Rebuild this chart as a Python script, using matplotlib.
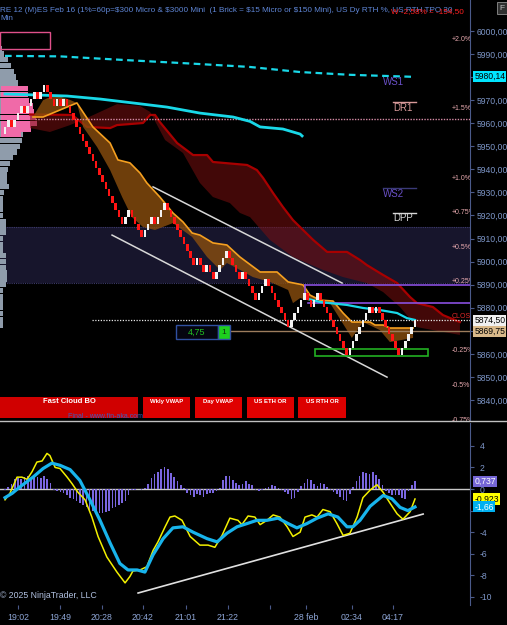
import matplotlib
matplotlib.use("Agg")
import matplotlib.pyplot as plt
from matplotlib import font_manager
from matplotlib.patches import Rectangle
import numpy as np

# ---------------- data ----------------
brick_size = 3.0
first_open = 5955.5
brick_close = [
    5958.5, 5961.5, 5958.5, 5961.5, 5964.5, 5967.5, 5964.5, 5967.5, 5970.5, 5973.5,
    5970.5, 5973.5, 5976.5, 5973.5, 5970.5, 5967.5, 5970.5, 5967.5, 5970.5, 5967.5,
    5964.5, 5961.5, 5958.5, 5955.5, 5952.5, 5949.5, 5946.5, 5943.5, 5940.5, 5937.5,
    5934.5, 5931.5, 5928.5, 5925.5, 5922.5, 5919.5, 5916.5, 5919.5, 5922.5, 5919.5,
    5916.5, 5913.5, 5910.5, 5913.5, 5916.5, 5919.5, 5916.5, 5919.5, 5922.5, 5925.5,
    5922.5, 5919.5, 5916.5, 5913.5, 5910.5, 5907.5, 5904.5, 5901.5, 5898.5, 5901.5,
    5898.5, 5895.5, 5898.5, 5895.5, 5892.5, 5895.5, 5898.5, 5901.5, 5904.5, 5901.5,
    5898.5, 5895.5, 5892.5, 5895.5, 5892.5, 5889.5, 5886.5, 5883.5, 5886.5, 5889.5,
    5892.5, 5889.5, 5886.5, 5883.5, 5880.5, 5877.5, 5874.5, 5871.5, 5874.5, 5877.5,
    5880.5, 5883.5, 5886.5, 5883.5, 5880.5, 5883.5, 5886.5, 5883.5, 5880.5, 5877.5,
    5874.5, 5871.5, 5868.5, 5865.5, 5862.5, 5859.5, 5862.5, 5865.5, 5868.5, 5871.5,
    5874.5, 5877.5, 5880.5, 5877.5, 5880.5, 5877.5, 5874.5, 5871.5, 5868.5, 5865.5,
    5862.5, 5859.5, 5862.5, 5865.5, 5868.5, 5871.5, 5874.5,
]

# weekly vwap (dashed cyan)
wk_x = [0, 16.9, 36.9, 56.9, 75.3, 90.7, 106, 126]
wk_y = [5989.2, 5989.0, 5987.4, 5985.9, 5984.4, 5982.2, 5981.0, 5980.1]
# day vwap, two pieces
dv1_x = [0, 19.1, 29.2, 39.3, 49.8, 59.9, 70.1, 75.3, 78.4, 85.4, 90.7, 91.3]
dv1_y = [5972.7, 5971.8, 5970.5, 5968.8, 5967.0, 5964.4, 5962.7, 5960.8, 5958.4, 5957.5, 5955.3, 5954.5]
dv2_x = [93.1, 96.8, 99.9, 105.1, 110, 115.2, 120.5, 123.5, 126]
dv2_y = [5883.8, 5882.5, 5882.0, 5881.2, 5879.9, 5879.0, 5877.7, 5875.5, 5874.7]

# fast cloud
fast_x = [8.6, 11.7, 22.1, 27.0, 32.3, 34.7, 38.4, 41.5, 43.6, 47.6, 51.6, 54.7, 57.5, 59.9,
          63.9, 68.2, 72.2, 78.4, 83.6, 87.0, 91.6, 93.7, 96.8, 100.8, 103.9, 106.6, 112.2,
          113.7, 116.2, 118.3, 125.4]
fast_y = [5962.7, 5962.7, 5968.8, 5958.4, 5951.4, 5944.1, 5942.8, 5938.4, 5934.1, 5928.0,
          5921.1, 5917.2, 5912.4, 5911.5, 5908.1, 5907.2, 5902.0, 5895.5, 5895.5, 5891.2,
          5889.9, 5885.5, 5883.3, 5882.9, 5877.7, 5873.8, 5873.8, 5872.5, 5872.5, 5871.2, 5871.2]
slow_x = [8.6, 11.7, 15.4, 20.0, 22.1, 24.0, 28.3, 32.3, 36.0, 39.0, 42.4, 46.1, 51.6, 57.5,
          62.1, 66.1, 68.2, 72.2, 76.2, 81.4, 87.0, 88.5, 90.7, 94.7, 99.9, 106.6, 110.0,
          115.2, 118.3, 125.4]
slow_y = [5962.7, 5970.0, 5972.3, 5970.1, 5968.8, 5958.4, 5949.7, 5939.7, 5928.0, 5919.3,
          5915.0, 5913.7, 5916.7, 5910.7, 5902.0, 5896.4, 5899.4, 5896.4, 5893.3, 5891.2,
          5887.7, 5882.0, 5884.2, 5882.5, 5882.0, 5866.9, 5873.8, 5870.3, 5865.1, 5866.9]

# slow (red) cloud
red_x = [7.7, 20.6, 25.2, 32.3, 34.4, 42.4, 44.6, 46.1, 47.6, 52.9, 57.8, 62.1, 63.9, 74.4,
         77.4, 79.3, 82.4, 85.4, 88.5, 91.6, 94.7, 99.0, 105.1, 109.1, 111.2, 116.2, 120.5,
         124.5, 126.6, 131.5, 134.6, 139.8]
red_y = [5963.8, 5963.6, 5958.4, 5957.9, 5959.2, 5960.1, 5963.6, 5963.6, 5960.5, 5951.4,
         5946.2, 5946.2, 5943.2, 5941.9, 5939.7, 5936.3, 5929.7, 5923.7, 5918.0, 5913.7,
         5909.4, 5904.2, 5904.2, 5900.7, 5898.5, 5894.2, 5890.7, 5884.6, 5882.0, 5880.3,
         5876.8, 5873.8]
redb_x = [7.7, 13.8, 20.0, 25.2, 29.2, 34.4, 41.5, 44.6, 49.2, 54.7, 59.9, 63.9, 69.1, 72.2,
          75.3, 81.4, 88.5, 97.7, 103.9, 111.2, 116.2, 121.4, 123.5, 126.6, 131.5, 139.8]
redb_y = [5957.9, 5956.2, 5959.2, 5962.3, 5964.9, 5968.3, 5967.5, 5964.9, 5952.7, 5947.1,
          5934.1, 5928.0, 5925.4, 5921.1, 5919.3, 5909.4, 5902.0, 5896.4, 5893.3, 5890.7,
          5886.8, 5880.3, 5876.8, 5871.6, 5870.3, 5868.2]

# trend lines
tl1_x, tl1_y = [45.5, 103.6], [5932.4, 5890.7]
tl2_x, tl2_y = [32.9, 117.4], [5911.5, 5849.9]

# volume profile rows (top row price, step 2.5)
prof_gray = [2, 4, 8, 11, 14, 16, 18, 21, 24, 24, 25, 25, 25, 25, 25, 23, 22, 20, 17, 13, 10, 8,
             7, 7, 9, 4, 3, 3, 3, 3, 6, 6, 6, 3, 3, 3, 6, 6, 6, 7, 7, 6, 3, 3, 3, 3, 3, 3, 3]
prof_pink = [0, 0, 0, 0, 0, 0, 0, 27, 27, 28, 32, 33, 35, 36, 30, 20] + [0] * 33

# reference levels
close_ref = 5877.75
pct_vals = [2.0, 1.5, 1.0, 0.75, 0.5, 0.25, 0.0, -0.25, -0.5, -0.75]
pct_text = ['+2.0%', '+1.5%', '+1.0%', '+0.75%', '+0.5%', '+0.25%', 'CLOSE', '-0.25%', '-0.5%', '-0.75%']
band_lo, band_hi = 5890.7, 5915.0
pink_dot = 5961.8
last_px, mark_px, wk_last = 5874.50, 5869.75, 5980.14
purple_lv = [5889.9, 5882.0]
pivots = [('WS1', 5977.9, None, '#6a50c8'), ('DR1', 5966.6, 5969.2, '#d89a9a'),
          ('WS2', 5929.3, 5931.9, '#6a50c8'), ('DPP', 5918.9, 5921.1, '#d8d8d8')]

# MACD panel
hist = [-0.1, 0.2, 0.5, 0.9, 1.0, 0.9, 1.1, 1.2, 0.8, 1.3, 1.1, 1.0, 1.2, 0.9, 0.6, -0.1, -0.2,
        -0.3, -0.4, -0.6, -0.8, -0.9, -1.1, -1.3, -1.5, -1.7, -1.9, -2.0, -2.1, -2.2, -2.2,
        -2.1, -2.0, -1.8, -1.7, -1.5, -1.3, -1.1, -0.6, -0.1, -0.05, 0.0, -0.1, 0.1, 0.45,
        1.0, 1.4, 1.6, 1.9, 2.0, 1.9, 1.5, 1.1, 0.7, 0.4, 0.1, -0.4, -0.6, -0.7, -0.5, -0.6,
        -0.7, -0.5, -0.4, -0.4, -0.2, 0.1, 0.8, 1.2, 1.2, 0.8, 0.6, 0.4, 0.5, 0.7, 0.5, 0.4,
        -0.1, -0.2, -0.1, 0.1, 0.2, 0.4, 0.3, 0.1, -0.1, -0.3, -0.5, -0.9, -0.8, -0.3, 0.3,
        0.6, 0.9, 0.8, 0.5, 0.3, 0.6, 0.5, 0.2, -0.1, -0.3, -0.5, -0.7, -1.0, -1.1, -0.5,
        0.2, 0.7, 1.2, 1.6, 1.5, 1.4, 1.6, 1.3, 0.9, 0.4, -0.2, -0.4, -0.6, -0.6, -0.6,
        -0.8, -0.9, -0.2, 0.4, 0.737]
macd_x = [0, 1.5, 3.7, 5.2, 6.8, 8.3, 9.8, 11.4, 12.9, 13.8, 15.4, 16.9, 19.1, 20.6, 22.4,
          24.6, 26.7, 28.6, 31.3, 34.4, 36.9, 38.4, 39.3, 41.5, 43.6, 45.5, 47, 49.2, 50.7,
          52.2, 54.4, 56.9, 59.9, 62.4, 64.5, 66.7, 69.1, 71.6, 72.8, 74.7, 76.8, 78.4, 80.5,
          82.4, 84.5, 86.7, 88.5, 90.7, 92.2, 94.3, 95.9, 97.7, 99.9, 102, 103.9, 106, 108.2,
          110, 112.2, 114.3, 116.2, 118.3, 120.5, 122.3, 124.5, 126]
macd_y = [-1.0, -0.4, 1.1, 1.1, 0.9, 1.6, 2.5, 2.6, 3.3, 3.1, 2.0, 1.9, 1.1, 0.5, -0.3, -1.0,
          -2.6, -4.4, -6.3, -7.7, -8.7, -8.1, -7.6, -7.5, -7.2, -5.7, -4.9, -3.5, -2.6, -2.5,
          -2.9, -4.4, -5.2, -5.2, -5.4, -4.3, -2.7, -2.9, -3.3, -2.5, -2.6, -3.3, -2.9, -2.4,
          -2.6, -3.5, -4.4, -4.0, -2.6, -2.4, -2.6, -1.9, -2.1, -3.2, -4.3, -4.1, -2.6, -0.8,
          -0.1, 0.4, -0.3, -1.3, -2.3, -2.8, -2.1, -0.923]
sig_x = [0, 2.2, 4.6, 8.6, 11.7, 14.4, 16.9, 20, 23, 26.1, 29.2, 32.3, 35.3, 37.8, 40.6, 43,
         45.5, 48.6, 51.6, 54.7, 57.8, 62.1, 65.2, 68.2, 71.3, 74.4, 77.4, 80.5, 83.9, 87,
         89.7, 92.8, 95.9, 99.3, 102.3, 105.1, 106.9, 109.1, 112.2, 116.2, 118.9, 121.4,
         123.8, 126]
sig_y = [-0.8, -0.4, 0.2, 1.1, 1.9, 2.4, 2.2, 1.8, 0.8, -1.0, -2.9, -5.0, -6.9, -7.5, -7.5,
         -7.7, -6.1, -4.6, -3.6, -3.5, -4.0, -4.6, -4.9, -4.1, -3.5, -3.2, -2.9, -2.9, -2.7,
         -3.2, -3.6, -3.2, -2.7, -2.3, -2.6, -3.5, -3.5, -2.9, -1.6, -0.6, -0.9, -1.7, -2.0, -1.66]
mtl_x, mtl_y = [40.9, 128.5], [-9.64, -2.32]

time_pos = [4.0, 16.9, 29.8, 42.4, 55.6, 68.5, 81.4, 92.5, 106.6, 119.2]
time_lab = ['19:02', '19:49', '20:28', '20:42', '21:01', '21:22', '', '28 feb', '02:34', '04:17']

# ---------------- style / layout ----------------
def has_font(name):
    try:
        font_manager.findfont(font_manager.FontProperties(family=name), fallback_to_default=False)
        return True
    except Exception:
        return False

narrow = 'Liberation Sans Narrow' if has_font('Liberation Sans Narrow') else 'Liberation Sans'
title_fs = 6.5 if narrow == 'Liberation Sans Narrow' else 5.9
plt.rcParams['font.family'] = ['Liberation Sans', 'DejaVu Sans']

W, H = 507, 625
PW = 470            # plot width px
TOP_H = 421         # price panel height px
BAR = 3.254         # px per bar
X0 = 5              # px of first bar
AXC = '#7d96c8'

fig = plt.figure(figsize=(W / 100, H / 100), dpi=100, facecolor='black')
ax = fig.add_axes([0, (H - TOP_H) / H, PW / W, TOP_H / H])
ax2 = fig.add_axes([0, (H - 605) / H, PW / W, 182 / H])
xlim = (-X0 / BAR, (PW - X0) / BAR)

for a in (ax, ax2):
    a.set_facecolor('black')
    a.set_xlim(*xlim)
    for s in ('top', 'left', 'bottom'):
        a.spines[s].set_visible(False)
    a.spines['right'].set_color('#4a5a8a')
    a.yaxis.tick_right()
    a.tick_params(axis='y', colors='#4a5a8a', labelcolor=AXC, labelsize=6.2, length=3, pad=2)

ax.set_ylim(5830.88, 6013.44)
ax.set_xticks([])
ticks = list(range(5840, 6001, 10))
ax.set_yticks(ticks)
# labels hidden behind the price badges are left blank
ax.set_yticklabels(['' if t in (5980, 5870) else f'{t},00' for t in ticks])

# background band and level lines
ax.axhspan(band_lo, band_hi, color='#17152c', zorder=0.5, lw=0)
for lv in (band_lo, band_hi):
    ax.axhline(lv, color='#3c3a6a', lw=0.8, ls=(0, (1, 1)), zorder=0.6)
ax.plot([9.2, xlim[1]], [pink_dot, pink_dot], color='#d58aa5', lw=1, ls=(0, (1, 1)), zorder=3)
ax.plot([26.7, xlim[1]], [last_px, last_px], color='#e8e8e8', lw=0.9, ls=(0, (1, 1.2)), zorder=3)
ax.plot([69.1, xlim[1]], [mark_px, mark_px], color='#9c7c5c', lw=1, zorder=3)
ax.plot([92.2, xlim[1]], [purple_lv[0]] * 2, color='#8a4fe0', lw=1.2, zorder=3)
ax.plot([93.1, xlim[1]], [purple_lv[1]] * 2, color='#8a4fe0', lw=1.2, zorder=3)
ax.plot([92.2, 92.2], [purple_lv[0], purple_lv[0] - 4], color='#8a4fe0', lw=1.2, zorder=3)

# volume profile
prof_top = 5992.5
pw_scale = (36 / BAR) / max(prof_pink)
levels = prof_top - 2.5 * np.arange(len(prof_gray))
ax.barh(levels, np.array(prof_gray) * pw_scale, left=xlim[0], height=2.3,
        color='#8f9cab', lw=0, zorder=1)
ax.barh(levels, np.array(prof_pink) * pw_scale, left=xlim[0] + 1 / BAR, height=2.3,
        color='#f06aa8', lw=0, zorder=1.1)
ax.add_patch(Rectangle((xlim[0], 5992.2), 15.3, 7.4, fill=False, ec='#e0508a', lw=1, zorder=3))

# clouds
ax.fill(red_x + redb_x[::-1], red_y + redb_y[::-1], color='#7a0f0f', alpha=0.55, lw=0, zorder=1.5)
ax.plot(red_x, red_y, color='#a80000', lw=1.6, zorder=2)
ax.fill(fast_x + slow_x[::-1], fast_y + slow_y[::-1], color='#8a4e0e', alpha=0.8, lw=0, zorder=2.2)
ax.plot(fast_x, fast_y, color='#f5a020', lw=1.2, zorder=2.4)

# vwap lines
ax.plot(wk_x, wk_y, color='#19d8e8', lw=1.6, ls=(0, (3, 2)), zorder=3)
ax.plot(dv1_x, dv1_y, color='#19d8e8', lw=2, zorder=3)
ax.plot(dv2_x, dv2_y, color='#19d8e8', lw=1.6, zorder=5)

# trend lines
ax.plot(tl1_x, tl1_y, color='#d8d8d8', lw=1.1, zorder=3)
ax.plot(tl2_x, tl2_y, color='#d8d8d8', lw=1.1, zorder=3)

# target box
ax.add_patch(Rectangle((95.3, 5859.1), 34.7, 3.0, fill=False, ec='#22b022', lw=1.2, zorder=3))

# renko bricks
closes = np.array(brick_close)
opens = np.concatenate([[first_open], closes[:-1]])
up = closes > opens
lower = np.where(up, closes - brick_size, closes)
colors = np.where(up, '#f2f2f2', '#ff1414')
ax.bar(np.arange(len(closes)), brick_size, bottom=lower, width=0.8, color=colors, lw=0, zorder=6)

# pivot labels
for name, ty, ly, col in pivots:
    tx = 116.2 if name.startswith('WS') else 119.2
    ax.text(tx, ty, name, color=col, fontsize=7, va='center', ha='left', zorder=7)
    if ly is not None:
        ax.plot([tx, 126.3], [ly, ly], color=col if name != 'WS2' else '#3a3a78', lw=1, zorder=7)

# percent labels
for pv, pt in zip(pct_vals, pct_text):
    t = ax.text(137.4, close_ref + pv * 60 - 1.5, pt, fontsize=5,
                color='#e02828' if pt == 'CLOSE' else '#e6a8ae', va='center', ha='left', zorder=7)
    t.set_clip_on(True)

# badges on price scale
def badge(a, val, txt, fc, tc):
    a.annotate(txt, xy=(1.0, val), xycoords=('axes fraction', 'data'), xytext=(3, 0),
               textcoords='offset points', ha='left', va='center', fontsize=6.2, color=tc,
               bbox=dict(boxstyle='square,pad=0.12', fc=fc, ec='none'),
               annotation_clip=False, zorder=10)

badge(ax, wk_last, '5980,14', '#00e5ff', '#000000')
badge(ax, last_px, '5874,50', '#f0f0f0', '#000000')
badge(ax, mark_px, '5869,75', '#d9b98a', '#000000')

# UI overlays in axes fraction (px based)
def af(px, py):
    return px / PW, (TOP_H - py) / TOP_H

bx, by = af(176, 339)
ax.add_patch(Rectangle((bx, by), 42 / PW, 14 / TOP_H, transform=ax.transAxes,
                       fc='#05050f', ec='#3050a0', lw=1, zorder=8))
gx, gy = af(218, 339)
ax.add_patch(Rectangle((gx, gy), 12 / PW, 14 / TOP_H, transform=ax.transAxes,
                       fc='#1ed01e', ec='#3050a0', lw=1, zorder=8))
ax.text(*af(197, 332), '4,75', transform=ax.transAxes, color='#22c022', fontsize=6.5,
        ha='center', va='center', zorder=9)
ax.text(*af(224, 332), '1', transform=ax.transAxes, color='#103010', fontsize=6,
        ha='center', va='center', zorder=9)

buttons = [('Fast Cloud BO', 0, 138, '#d00000', 5.5), ('Wkly VWAP', 143, 190, '#dc0000', 4.3),
           ('Day VWAP', 195, 242, '#e00000', 4.3), ('US ETH OR', 247, 294, '#e00000', 4.3),
           ('US RTH OR', 298, 346, '#dc0000', 4.3)]
for lab, x0, x1, col, fs in buttons:
    p0 = af(x0, 418)
    ax.add_patch(Rectangle(p0, (x1 - x0) / PW, 21 / TOP_H, transform=ax.transAxes,
                           fc=col, ec='none', zorder=8))
    ax.text(*af((x0 + x1) / 2, 401.5), lab, transform=ax.transAxes, color='white',
            fontsize=fs, fontweight='bold', ha='center', va='center', zorder=9)
ax.text(*af(106, 417), 'Final - www.fin-aka.com', transform=ax.transAxes, color='#3c5cc0',
        fontsize=5, ha='center', va='center', zorder=9)

# ---------------- MACD panel ----------------
ax2.set_ylim(-10.75, 6.12)
mt = [4, 2, 0, -2, -4, -6, -8, -10]
ax2.set_yticks(mt)
ax2.set_yticklabels(['' if v == -2 else str(v) for v in mt])
ax2.tick_params(axis='y', pad=4)
ax2.axhline(0, color='#c8c8c8', lw=1, zorder=1)
ax2.bar(np.arange(len(hist)), hist, width=0.5, color='#7a66e0', lw=0, zorder=2)
ax2.plot(mtl_x, mtl_y, color='#e0e0e0', lw=1.2, zorder=3)
ax2.plot(macd_x, macd_y, color='#f2f000', lw=1.1, zorder=4)
ax2.plot(sig_x, sig_y, color='#18b4ec', lw=2.3, zorder=5)
ax2.set_xticks(time_pos)
ax2.set_xticklabels(time_lab)
ax2.tick_params(axis='x', colors='#4a5a8a', labelcolor='#8ea6d6', labelsize=6.3, length=3, pad=3)
badge(ax2, hist[-1], '0,737', '#7566d6', '#ffffff')
badge(ax2, macd_y[-1], '-0,923', '#ffff00', '#000000')
badge(ax2, sig_y[-1], '-1,66', '#00b0f0', '#ffffff')

# ---------------- figure texts ----------------
fig.add_artist(plt.Line2D([0, 1], [1 - 421 / H, 1 - 421 / H], color='#c0c0c0', lw=1))
fig.text(0, 1 - 10 / H,
         r'RE 12 (M)ES Feb 16 (1%=60p=\$300 Micro & \$3000 Mini  (1 Brick = \$15 Micro or \$150 Mini), '
         'US Dy RTH %, US RTH TPO 30', family=[narrow, 'DejaVu Sans'], fontsize=title_fs,
         color='#5f86d6', va='center', ha='left')
fig.text(0, 1 - 19 / H, 'Min', family=[narrow, 'DejaVu Sans'], fontsize=title_fs, color='#5f86d6',
         va='center', ha='left')
fig.text(391 / W, 1 - 12 / H, 'W -2,58% = -154,50', family=[narrow, 'DejaVu Sans'], fontsize=title_fs,
         color='#ff2020', va='center', ha='left')
fig.text(502 / W, 1 - 8 / H, 'F', fontsize=6, color='#c0c0c0', ha='center', va='center',
         bbox=dict(boxstyle='square,pad=0.25', fc='#303030', ec='#909090', lw=0.6))
fig.text(0, 1 - 596 / H, '\u00a9 2025 NinjaTrader, LLC', fontsize=6.3, color='#b0c0e0',
         va='center', ha='left')

fig.savefig('out.png', dpi=100, facecolor='black')
